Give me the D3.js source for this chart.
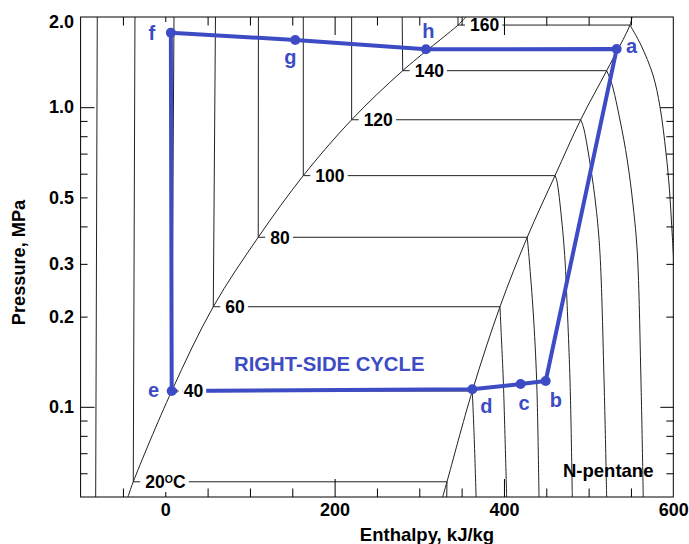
<!DOCTYPE html>
<html><head><meta charset="utf-8">
<script src="https://cdn.jsdelivr.net/npm/d3@7"></script>
<style>html,body{margin:0;padding:0;background:#fff;} svg{display:block;}</style>
</head><body>
<svg id="c" width="689" height="544"></svg>
<script>
// ---------------- DATA ----------------
const isoT   = [20, 40, 60, 80, 100, 120, 140, 160];              // isotherm temperatures, °C
const isoP   = [0.0562, 0.1129, 0.2158, 0.368, 0.591, 0.908, 1.324, 1.88]; // saturation pressure, MPa
const liqH   = [-37.8, 7.6, 56.7, 109.8, 163.0, 220.1, 280.4, 345.7];      // sat. liquid enthalpy
const vapH   = [332.7, 362.6, 395.3, 427.5, 460.3, 490.6, 521.3, 548.8];  // sat. vapour enthalpy
const liqTopH = [-35.8, 10.3, 59.3, 110.0, 163.0, 220.1, 279.8, 345.7];    // compressed-liquid isotherm at 2 MPa

const zeroH = [-82.2, -80.3];      // 0 °C liquid isotherm
const zeroP = [0.05, 2.0];

const liqLineH = [-44.1, -37.8, 7.6, 56.7, 109.8, 163.0, 220.1, 280.4, 345.7, 355.1];
const liqLineP = [0.05, 0.0562, 0.1129, 0.2158, 0.368, 0.591, 0.908, 1.324, 1.88, 2.0];
const vapLineH = [327.6, 332.7, 362.6, 395.3, 427.5, 460.3, 490.6, 521.3, 548.8, 551.2];
const vapLineP = [0.05, 0.0562, 0.1129, 0.2158, 0.368, 0.591, 0.908, 1.324, 1.88, 2.0];

// superheated-vapour isotherms (20..160 °C)
const supH = [
  [332.7, 332.4],
  [362.6, 364.8, 367.1],
  [395.3, 397.1, 399.2, 403.2],
  [427.5, 429.9, 434.6, 438.6, 441.4],
  [460.3, 462.3, 468.2, 472.1, 473.3, 478.0, 480.7],
  [490.6, 493.7, 501.6, 508.7, 513.4, 518.2, 521.3],
  [521.3, 527.2, 537.0, 545.6, 552.7, 557.5, 561.8, 564.5],
  [548.8, 561.8, 576.0, 584.3, 591.4, 595.5, 598.4, 600.8]
];
const supP = [
  [0.0562, 0.05],
  [0.1129, 0.08, 0.05],
  [0.2158, 0.167, 0.1228, 0.05],
  [0.368, 0.309, 0.2056, 0.1228, 0.05],
  [0.591, 0.571, 0.420, 0.309, 0.265, 0.1228, 0.05],
  [0.908, 0.861, 0.651, 0.465, 0.325, 0.1228, 0.05],
  [1.324, 1.202, 0.907, 0.667, 0.465, 0.326, 0.1228, 0.05],
  [1.88, 1.612, 1.280, 1.002, 0.703, 0.529, 0.389, 0.297]
];

// right-side cycle e-f-g-h-a-b-c-d
const cycleNames = ['e', 'f', 'g', 'h', 'a', 'b', 'c', 'd'];
const cycleH = [7.6, 6.6, 153.5, 307.9, 533.1, 449.3, 419.7, 362.6];
const cycleP = [0.1129, 1.773, 1.676, 1.560, 1.563, 0.1219, 0.1191, 0.1144];

// ticks
const xMajor = [200, 400];
const xZero = [0];
const xMinor = [-50, 50, 100, 150, 250, 300, 350, 450, 500, 550];
const xLabels = [0, 200, 400, 600];
const yDecade = [0.1, 1.0];
const yMinor = [0.06, 0.07, 0.08, 0.09, 0.2, 0.3, 0.4, 0.5, 0.6, 0.7, 0.8, 0.9];
const yLabels = [0.1, 0.2, 0.3, 0.5, 1.0, 2.0];

// ---------------- DRAW ----------------
const svg = d3.select('#c');
const FONT = '"Liberation Sans", Arial, Helvetica, sans-serif';
const BLUE = '#3d4cc4';
const x = d3.scaleLinear().domain([-100, 600]).range([80.6, 673.3]);
const y = d3.scaleLog().domain([0.05, 2]).range([497, 17]);
const X0 = x.range()[0], X1 = x.range()[1], YB = y.range()[0], YT = y.range()[1];

svg.append('defs').append('clipPath').attr('id', 'clip')
  .append('rect').attr('x', X0).attr('y', YT).attr('width', X1 - X0).attr('height', YB - YT);

const gLines = svg.append('g').attr('clip-path', 'url(#clip)')
  .attr('fill', 'none').attr('stroke', '#222').attr('stroke-width', 1);
const gCycle = svg.append('g');
const gLabBg = svg.append('g');
const gLabTx = svg.append('g');
const gDots = svg.append('g');
const gText = svg.append('g');
const gAxes = svg.append('g');

const zip = (a, b) => a.map((v, i) => [v, b[i]]);
const curve = d3.line().x(d => x(d[0])).y(d => y(d[1])).curve(d3.curveCatmullRom.alpha(0.5));
const straight = d3.line().x(d => x(d[0])).y(d => y(d[1]));

gLines.append('path').attr('d', straight(zip(zeroH, zeroP)));
isoT.forEach((t, i) => {
  gLines.append('path').attr('d', straight([[liqH[i], isoP[i]], [liqTopH[i], 2.0]]));
});
gLines.append('path').attr('d', curve(zip(liqLineH, liqLineP)));
gLines.append('path').attr('d', curve(zip(vapLineH, vapLineP)));
supH.forEach((hs, i) => gLines.append('path').attr('d', curve(zip(hs, supP[i]))));

// cycle path
const cyc = zip(cycleH, cycleP);
gCycle.append('path')
  .attr('d', straight(cyc.concat([cyc[0]])))
  .attr('fill', 'none').attr('stroke', BLUE).attr('stroke-width', 4)
  .attr('stroke-linejoin', 'round');

// isotherm labels
const LFS = 17.5;
isoT.forEach((t, i) => {
  const lx = x(liqH[i]), vx = x(vapH[i]), py = y(isoP[i]);
  const tx = lx + 12;
  const txt = gLabTx.append('text')
    .attr('x', tx).attr('y', py).attr('dy', '0.36em')
    .attr('font-family', FONT).attr('font-weight', 'bold').attr('font-size', LFS)
    .attr('fill', '#000');
  if (t === 20) {
    txt.text('20');
    txt.append('tspan').attr('font-size', 10.5).attr('dy', -5.5).text('O');
    txt.append('tspan').attr('dy', 5.5).text('C');
  } else {
    txt.text(t);
  }
  const w = txt.node().getComputedTextLength();
  gLabBg.append('rect').attr('x', tx - 1).attr('y', py - 7).attr('width', w + 4).attr('height', 14).attr('fill', '#fff');
  gLabBg.append('line').attr('x1', lx + 5.5).attr('x2', tx - 1).attr('y1', py).attr('y2', py)
    .attr('stroke', '#fff').attr('stroke-width', 6);
  gLabTx.append('line').attr('x1', lx).attr('x2', tx - 5).attr('y1', py).attr('y2', py)
    .attr('stroke', '#222').attr('stroke-width', 1);
  gLines.append('line').attr('x1', tx + w + 3).attr('x2', vx).attr('y1', py).attr('y2', py);
});

// cycle points and letters
const letterOff = {
  f: [-19, 7.3], g: [-4.8, 24], h: [2.3, -11], a: [14.8, 4.3],
  b: [10.1, 25.7], c: [3.5, 26], d: [14, 24], e: [-18.2, 5.7]
};
cyc.forEach((p, i) => {
  gDots.append('circle').attr('cx', x(p[0])).attr('cy', y(p[1])).attr('r', 5).attr('fill', BLUE);
  const o = letterOff[cycleNames[i]];
  gText.append('text').attr('x', x(p[0]) + o[0]).attr('y', y(p[1]) + o[1])
    .attr('text-anchor', 'middle').attr('font-family', FONT).attr('font-weight', 'bold')
    .attr('font-size', 20).attr('fill', BLUE).text(cycleNames[i]);
});

gText.append('text').attr('x', 234).attr('y', 370.7)
  .attr('font-family', FONT).attr('font-weight', 'bold').attr('font-size', 20.3)
  .attr('fill', BLUE).text('RIGHT-SIDE CYCLE');

gText.append('text').attr('x', 563).attr('y', 476.7)
  .attr('font-family', FONT).attr('font-weight', 'bold').attr('font-size', 18.5)
  .attr('fill', '#000').text('N-pentane');

// ---------------- AXES ----------------
function styleAxis(g) {
  g.select('.domain').remove();
  g.selectAll('line').attr('stroke', '#000').attr('stroke-width', 1);
  g.selectAll('text').attr('font-family', FONT).attr('font-weight', 'bold')
    .attr('font-size', 18).attr('fill', '#000');
}
function ticksOnly(axisGen, values, len, tx, ty) {
  gAxes.append('g').attr('transform', `translate(${tx},${ty})`)
    .call(axisGen.tickValues(values).tickSizeInner(-len).tickSizeOuter(0).tickFormat(() => ''))
    .call(styleAxis);
}
// bottom/top ticks
ticksOnly(d3.axisBottom(x), xMajor, 18, 0, YB);
ticksOnly(d3.axisBottom(x), xZero, 5, 0, YB);
ticksOnly(d3.axisBottom(x), xMinor, 8.5, 0, YB);
ticksOnly(d3.axisTop(x), xMajor, 18, 0, YT);
ticksOnly(d3.axisTop(x), xZero, 5, 0, YT);
ticksOnly(d3.axisTop(x), xMinor, 8.5, 0, YT);
// left/right ticks
ticksOnly(d3.axisLeft(y), yDecade, 14, X0, 0);
ticksOnly(d3.axisLeft(y), yMinor, 7, X0, 0);
ticksOnly(d3.axisRight(y), yDecade, 13, X1, 0);
ticksOnly(d3.axisRight(y), yMinor, 7, X1, 0);

// labels
gAxes.append('g').attr('transform', `translate(0,${YB})`)
  .call(d3.axisBottom(x).tickValues(xLabels).tickSize(0).tickPadding(6.3).tickFormat(d3.format('d')))
  .call(styleAxis);
gAxes.append('g').attr('transform', `translate(${X0},0)`)
  .call(d3.axisLeft(y).tickValues(yLabels).tickSize(0).tickPadding(6.6).tickFormat(d3.format('.1f')))
  .call(styleAxis)
  .call(g => g.selectAll('.tick').filter(d => d === 2.0).select('text').attr('y', 4.6));

// frame
gAxes.append('rect').attr('x', X0).attr('y', YT).attr('width', X1 - X0).attr('height', YB - YT)
  .attr('fill', 'none').attr('stroke', '#000').attr('stroke-width', 1);

// axis titles
gAxes.append('text').attr('x', 427).attr('y', 541).attr('text-anchor', 'middle')
  .attr('font-family', FONT).attr('font-weight', 'bold').attr('font-size', 18.5)
  .text('Enthalpy, kJ/kg');
gAxes.append('text').attr('transform', 'translate(25,262.5) rotate(-90)').attr('text-anchor', 'middle')
  .attr('font-family', FONT).attr('font-weight', 'bold').attr('font-size', 18.2)
  .text('Pressure, MPa');
</script>
</body></html>
